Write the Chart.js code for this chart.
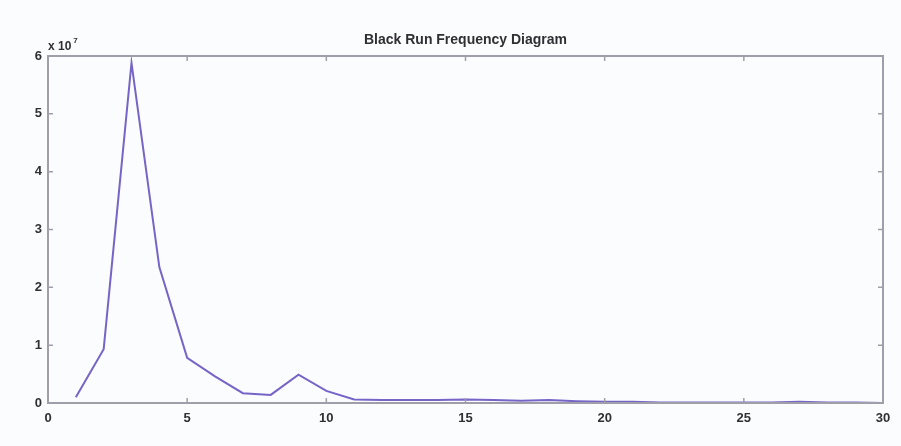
<!DOCTYPE html>
<html>
<head>
<meta charset="utf-8">
<script src="https://cdn.jsdelivr.net/npm/chart.js@4"></script>
<style>
  html, body { margin: 0; padding: 0; background: #fbfcfe; }
  #wrap { width: 901px; height: 446px; }
</style>
</head>
<body>
<div id="wrap"><canvas id="c" width="901" height="446"></canvas></div>
<script>
// Run length (pixels) and how often black runs of that length occur
const runLengths = [1,2,3,4,5,6,7,8,9,10,11,12,13,14,15,16,17,18,19,20,21,22,23,24,25,26,27,28,29,30];
const runCounts = [
  0.10e7, 0.93e7, 5.88e7, 2.35e7, 0.78e7, 0.46e7, 0.17e7, 0.14e7, 0.49e7, 0.21e7,
  0.06e7, 0.05e7, 0.05e7, 0.05e7, 0.06e7, 0.05e7, 0.04e7, 0.05e7, 0.03e7, 0.02e7,
  0.02e7, 0.01e7, 0.01e7, 0.01e7, 0.01e7, 0.01e7, 0.02e7, 0.01e7, 0.01e7, 0.00e7
];
const xTicks = [0, 5, 10, 15, 20, 25, 30];
const yTicks = [0, 1, 2, 3, 4, 5, 6];   // in units of 10^7
const yScaleFactor = 1e7;

const points = runLengths.map((x, i) => ({ x: x, y: runCounts[i] }));

const fontFamily = '"Liberation Sans", Arial, sans-serif';
const labelFont = { family: fontFamily, size: 13, weight: 'bold' };
const textColor = '#303034';

// Box around the axes with inward tick marks on all four sides, plus the exponent label
const boxPlugin = {
  id: 'boxPlugin',
  afterDraw(chart) {
    const { ctx, chartArea: a, scales } = chart;
    ctx.save();
    ctx.strokeStyle = '#a09ea8';
    ctx.lineWidth = 2;
    ctx.strokeRect(a.left, a.top, a.right - a.left, a.bottom - a.top);
    ctx.lineWidth = 1.5;
    const len = 5;
    xTicks.forEach(v => {
      const px = scales.x.getPixelForValue(v);
      ctx.beginPath();
      ctx.moveTo(px, a.bottom); ctx.lineTo(px, a.bottom - len);
      ctx.moveTo(px, a.top); ctx.lineTo(px, a.top + len);
      ctx.stroke();
    });
    yTicks.forEach(v => {
      const py = scales.y.getPixelForValue(v * yScaleFactor);
      ctx.beginPath();
      ctx.moveTo(a.left, py); ctx.lineTo(a.left + len, py);
      ctx.moveTo(a.right, py); ctx.lineTo(a.right - len, py);
      ctx.stroke();
    });
    // exponent label "x 10^7"
    ctx.fillStyle = textColor;
    ctx.font = 'bold 12px ' + fontFamily;
    ctx.textBaseline = 'alphabetic';
    ctx.textAlign = 'left';
    ctx.fillText('x 10', a.left, a.top - 6);
    const w = ctx.measureText('x 10').width;
    ctx.font = 'bold 8px ' + fontFamily;
    ctx.fillText('7', a.left + 2 + w, a.top - 13);
    ctx.restore();
  }
};

new Chart(document.getElementById('c'), {
  type: 'line',
  data: {
    datasets: [{
      data: points,
      borderColor: 'rgb(118, 100, 198)',
      borderWidth: 2,
      pointRadius: 0,
      tension: 0,
      fill: false
    }]
  },
  options: {
    responsive: false,
    animation: false,
    devicePixelRatio: 1,
    layout: { padding: { top: 0, right: 18, left: 0, bottom: 0 } },
    plugins: {
      legend: { display: false },
      tooltip: { enabled: false },
      title: {
        display: true,
        fullSize: false,
        text: 'Black Run Frequency Diagram',
        color: textColor,
        font: { family: fontFamily, size: 14, weight: 'bold', lineHeight: 1.2 },
        padding: { top: 32, bottom: 7.2 }
      }
    },
    scales: {
      x: {
        type: 'linear',
        min: 0, max: 30,
        afterBuildTicks(scale) { scale.ticks = xTicks.map(v => ({ value: v })); },
        afterFit(scale) { scale.height = 43; },
        grid: { display: false, drawTicks: false },
        border: { display: false },
        ticks: {
          color: textColor, font: labelFont, padding: 8,
          maxRotation: 0, autoSkip: false,
          callback: v => String(v)
        }
      },
      y: {
        type: 'linear',
        min: 0, max: 6 * yScaleFactor,
        afterBuildTicks(scale) { scale.ticks = yTicks.map(v => ({ value: v * yScaleFactor })); },
        afterFit(scale) { scale.width = 48; },
        grid: { display: false, drawTicks: false },
        border: { display: false },
        ticks: {
          color: textColor, font: labelFont, padding: 6,
          callback: v => String(Math.round(v / yScaleFactor))
        }
      }
    }
  },
  plugins: [boxPlugin]
});
</script>
</body>
</html>
